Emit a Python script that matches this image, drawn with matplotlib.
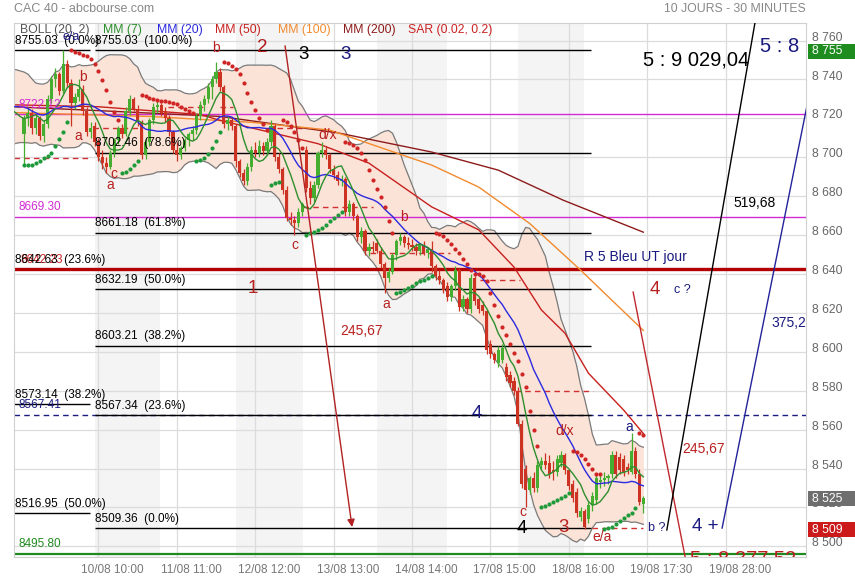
import matplotlib
matplotlib.use("Agg")
import matplotlib.pyplot as plt
import matplotlib.transforms as mtransforms
from matplotlib.patches import Rectangle
import numpy as np
import pandas as pd

plt.rcParams['font.family'] = ['Liberation Sans', 'DejaVu Sans']

W, H = 855, 580

# ---------------- data ----------------
# closes of the session before the visible window (estimated, only feeds the averages)
prev_closes = [8735, 8741, 8738, 8730, 8722, 8716, 8712, 8718, 8727, 8733,
               8739, 8736, 8728, 8719, 8711, 8714, 8722, 8729, 8724]

# 30 minute candles, one block per day
opens = [
    8712, 8720, 8723, 8715, 8720, 8711, 8717, 8730, 8740, 8743, 8734, 8748, 8738, 8728, 8731, 8735, 8724, 8713,
    8716, 8708, 8700, 8697, 8695, 8702, 8709, 8715, 8712, 8724, 8730, 8725, 8718, 8701, 8708, 8719, 8726, 8727,
    8724, 8720, 8713, 8704, 8701, 8705, 8709, 8712, 8714, 8721, 8727, 8730, 8736, 8740, 8744, 8736, 8717, 8719,
    8716, 8698, 8692, 8688, 8695, 8704, 8702, 8706, 8703, 8708, 8716, 8700, 8694, 8683, 8669, 8668, 8666, 8672,
    8704, 8684, 8679, 8686, 8702, 8704, 8701, 8694, 8691, 8688, 8689, 8672, 8676, 8670, 8659, 8662, 8652, 8654,
    8656, 8652, 8645, 8638, 8641, 8650, 8657, 8659, 8656, 8655, 8654, 8652, 8655, 8651, 8653, 8644, 8639, 8637,
    8634, 8628, 8634, 8642, 8623, 8627, 8622, 8638, 8627, 8624, 8621, 8604, 8599, 8594, 8596, 8592, 8588, 8585,
    8580, 8563, 8540, 8529, 8535, 8530, 8542, 8544, 8543, 8539, 8538, 8543, 8547, 8539, 8532, 8528, 8515, 8518,
    8514, 8521, 8524, 8533, 8534, 8535, 8537, 8547, 8546, 8545, 8541, 8538, 8549, 8537, 8522]
highs = [
    8722, 8726, 8725, 8722, 8721, 8719, 8732, 8742, 8746, 8744, 8755, 8750, 8740, 8733, 8740, 8737, 8726, 8718,
    8718, 8710, 8704, 8700, 8704, 8710, 8716, 8717, 8726, 8732, 8731, 8727, 8719, 8710, 8720, 8728, 8729, 8728,
    8726, 8722, 8714, 8708, 8706, 8710, 8713, 8716, 8723, 8729, 8732, 8738, 8742, 8749, 8746, 8737, 8721, 8720,
    8717, 8699, 8694, 8697, 8706, 8708, 8709, 8708, 8710, 8719, 8717, 8702, 8695, 8685, 8672, 8670, 8674, 8677,
    8706, 8688, 8688, 8703, 8708, 8706, 8702, 8696, 8693, 8691, 8690, 8678, 8677, 8671, 8664, 8663, 8656, 8657,
    8658, 8654, 8646, 8643, 8651, 8658, 8661, 8660, 8659, 8658, 8656, 8656, 8657, 8654, 8657, 8645, 8642, 8638,
    8636, 8635, 8644, 8643, 8629, 8628, 8640, 8639, 8628, 8626, 8622, 8606, 8600, 8603, 8604, 8594, 8590, 8587,
    8582, 8565, 8542, 8536, 8538, 8544, 8546, 8548, 8547, 8544, 8547, 8549, 8548, 8540, 8534, 8530, 8520, 8519,
    8523, 8528, 8537, 8537, 8538, 8537, 8549, 8549, 8548, 8547, 8543, 8558, 8551, 8540, 8526]
lows = [
    8696, 8716, 8712, 8712, 8709, 8708, 8715, 8728, 8736, 8732, 8733, 8736, 8716, 8725, 8729, 8722, 8711, 8710,
    8706, 8698, 8694, 8692, 8694, 8700, 8707, 8710, 8711, 8722, 8724, 8716, 8699, 8699, 8706, 8717, 8723, 8721,
    8718, 8711, 8702, 8698, 8699, 8703, 8706, 8709, 8712, 8719, 8724, 8728, 8730, 8738, 8734, 8715, 8714, 8714,
    8695, 8690, 8686, 8686, 8693, 8700, 8700, 8701, 8701, 8706, 8698, 8692, 8681, 8667, 8665, 8660, 8664, 8670,
    8682, 8676, 8677, 8684, 8700, 8699, 8692, 8689, 8686, 8685, 8670, 8670, 8668, 8657, 8656, 8650, 8649, 8651,
    8651, 8643, 8630, 8636, 8640, 8647, 8655, 8654, 8653, 8652, 8650, 8650, 8650, 8648, 8641, 8637, 8635, 8630,
    8626, 8626, 8632, 8621, 8621, 8620, 8620, 8624, 8620, 8619, 8599, 8597, 8594, 8592, 8594, 8585, 8582, 8578,
    8562, 8530, 8520, 8527, 8528, 8528, 8540, 8540, 8535, 8534, 8536, 8541, 8537, 8529, 8523, 8515, 8513, 8509,
    8512, 8518, 8522, 8530, 8531, 8532, 8535, 8535, 8537, 8536, 8537, 8537, 8535, 8521, 8517]
closes = [
    8720, 8723, 8715, 8720, 8711, 8717, 8730, 8740, 8743, 8734, 8748, 8738, 8728, 8731, 8735, 8724, 8713, 8715,
    8708, 8700, 8697, 8695, 8702, 8709, 8715, 8712, 8724, 8730, 8725, 8718, 8701, 8708, 8719, 8726, 8727, 8723,
    8720, 8713, 8704, 8701, 8705, 8709, 8712, 8714, 8721, 8727, 8730, 8736, 8740, 8744, 8736, 8717, 8719, 8716,
    8698, 8692, 8688, 8695, 8704, 8702, 8706, 8703, 8708, 8716, 8700, 8694, 8683, 8669, 8668, 8666, 8672, 8676,
    8684, 8679, 8686, 8702, 8704, 8701, 8694, 8691, 8688, 8689, 8672, 8676, 8670, 8659, 8662, 8652, 8654, 8653,
    8652, 8645, 8638, 8641, 8650, 8657, 8659, 8656, 8655, 8654, 8652, 8655, 8651, 8653, 8644, 8639, 8637, 8632,
    8628, 8634, 8642, 8623, 8627, 8622, 8638, 8626, 8622, 8621, 8601, 8599, 8596, 8601, 8602, 8587, 8584, 8580,
    8563, 8532, 8529, 8535, 8530, 8542, 8544, 8542, 8537, 8538, 8545, 8547, 8539, 8531, 8525, 8517, 8518, 8510,
    8521, 8526, 8535, 8534, 8535, 8536, 8547, 8537, 8539, 8538, 8539, 8549, 8537, 8523, 8525]

# long averages (need history outside the window)
mm50_x = [-3, 19, 45, 50, 75, 88, 104, 116, 125, 132, 138, 144, 153, 158]
mm50_y = [8727, 8726, 8722, 8719, 8707, 8697, 8674.5, 8662.7, 8643.6, 8621.5, 8609.6, 8589, 8570, 8558]
mm100_x = [-3, 32, 58, 78, 104, 116, 129, 142, 152, 158]
mm100_y = [8723, 8721, 8718, 8714, 8696, 8684.7, 8666, 8642, 8622.6, 8611]
mm200_x = [-3, 19, 50, 80, 104, 121, 137.5, 158]
mm200_y = [8726, 8724, 8721, 8712.6, 8702.7, 8693.4, 8678, 8661.5]

# fibonacci retracements
fib_left = [8755.03, 8642.63, 8573.14, 8516.95]
fib_left_pct = ['0.0%', '23.6%', '38.2%', '50.0%']
fib_right = [8755.03, 8702.46, 8661.18, 8632.19, 8603.21, 8567.34, 8509.36]
fib_right_pct = ['100.0%', '78.6%', '61.8%', '50.0%', '38.2%', '23.6%', '0.0%']

magenta_levels = [8722.12, 8669.30]
support_red = 8642.4
navy_level = 8567.41
green_level = 8495.80

# short red dashed stops: start, end, level
stop_start = [-2.5, 17.6, 36.7, 50.0, 64.5, 71.2, 88.3, 116.3, 125.3, 145.0]
stop_end = [16.8, 29.6, 46.7, 53.3, 72.2, 89.0, 108.7, 126.5, 145.2, 157.9]
stop_level = [8699.7, 8715, 8725.8, 8726, 8715, 8674.5, 8651, 8637, 8580, 8509.4]

# trend lines (x0, y0, x1, y1)
wave_red = (66.6, 8757.3, 83.7, 8509.9)
wave_red2 = (155.4, 8630.7, 169.2, 8489)
wave_black = (164.0, 8508.4, 187.5, 8781)
wave_navy = (178.1, 8509.4, 201.0, 8739)

tag_levels = [8755, 8525, 8509]
tag_colors = ['#1e8c1e', '#6e6e6e', '#cc1a1a']

day_shade = [(18.0, 34.6), (54.2, 71.2), (90.1, 108.0), (126.0, 142.9)]
grid_x = [19, 39, 59, 79, 99, 119, 139, 159, 179]
time_labels = ['10/08 10:00', '11/08 11:00', '12/08 12:00', '13/08 13:00', '14/08 14:00',
               '17/08 15:00', '18/08 16:00', '19/08 17:30', '19/08 28:00']

# ---------------- indicators ----------------
n_prev = len(prev_closes)
all_close = pd.Series(prev_closes + closes, dtype=float)
x_all = np.arange(-n_prev, len(closes))
mm7 = all_close.rolling(7, min_periods=1).mean()
mm20 = all_close.rolling(20, min_periods=1).mean()
sd20 = all_close.rolling(20, min_periods=2).std(ddof=0)
bb_up = mm20 + 2 * sd20
bb_lo = mm20 - 2 * sd20


def parabolic_sar(h, l, step=0.02, amax=0.2):
    n = len(h)
    sar = np.empty(n)
    up = np.empty(n, dtype=bool)
    trend_up = True
    af = step
    ep = h[0]
    sar[0] = l[0]
    up[0] = True
    for t in range(1, n):
        s = sar[t - 1] + af * (ep - sar[t - 1])
        if trend_up:
            s = min(s, l[t - 1], l[max(t - 2, 0)])
            if l[t] < s:
                trend_up, s, ep, af = False, ep, l[t], step
            elif h[t] > ep:
                ep, af = h[t], min(af + step, amax)
        else:
            s = max(s, h[t - 1], h[max(t - 2, 0)])
            if h[t] > s:
                trend_up, s, ep, af = True, ep, h[t], step
            elif l[t] < ep:
                ep, af = l[t], min(af + step, amax)
        sar[t] = s
        up[t] = trend_up
    return sar, up


sar, sar_up = parabolic_sar(np.array(highs, float), np.array(lows, float))

# ---------------- figure ----------------
fig = plt.figure(figsize=(W / 100, H / 100), dpi=100)
ax_l, ax_r, ax_t, ax_b = 14, 806, 22.7, 557.4
ax = fig.add_axes([ax_l / W, 1 - ax_b / H, (ax_r - ax_l) / W, (ax_b - ax_t) / H])
ax.set_xlim(-2.55, 199.5)
ax.set_ylim(8494.3, 8769.2)

for a, b in day_shade:
    ax.axvspan(a, b, color='#f4f4f4', lw=0, zorder=0)
for gx in grid_x:
    ax.axvline(gx, color='#dcdcdc', lw=0.9, zorder=0.5)
for gy in range(8500, 8761, 20):
    ax.axhline(gy, color='#dcdcdc', lw=0.9, zorder=0.5)

ax.set_xticks([])
ax.set_yticks([])
for s in ax.spines.values():
    s.set_color('#d0d0d0')
    s.set_linewidth(0.8)

# bollinger
ax.fill_between(x_all, bb_lo, bb_up, color='#fbe3d7', lw=0, zorder=1)
ax.plot(x_all, bb_up, color='#7a7a7a', lw=0.9, zorder=1.2)
ax.plot(x_all, bb_lo, color='#7a7a7a', lw=0.9, zorder=1.2)

# horizontal levels
for lv in magenta_levels:
    ax.axhline(lv, color='#d22ad2', lw=1.0, zorder=2)
ax.axhline(navy_level, color='#1c1c80', lw=1.0, ls=(0, (4, 3)), zorder=2)
ax.axhline(green_level, color='#1f8a1f', lw=1.6, zorder=2)
for lv in fib_left:
    ax.hlines(lv, -2.55, 16.8, color='black', lw=1.0, zorder=2.1)
for lv in fib_right:
    ax.hlines(lv, 18.1, 144.6, color='black', lw=1.0, zorder=2.1)
ax.axhline(support_red, color='#b30000', lw=2.4, zorder=2.2)
ax.hlines(stop_level, stop_start, stop_end, colors='#d23030', lw=1.0,
          linestyles=(0, (4, 3)), zorder=2.3)

# moving averages
ax.plot(mm200_x, mm200_y, color='#8e1b1b', lw=1.0, zorder=2.5)
ax.plot(mm100_x, mm100_y, color='#f28a2e', lw=1.0, zorder=2.5)
ax.plot(mm50_x, mm50_y, color='#c8201e', lw=1.0, zorder=2.5)
ax.plot(x_all, mm20, color='#2a2ae0', lw=1.0, zorder=3.5)
ax.plot(x_all, mm7, color='#2d8f2d', lw=1.0, zorder=3.5)

# candles
x = np.arange(len(closes))
o = np.array(opens, float)
c = np.array(closes, float)
colors = np.where(c >= o, '#45ad2f', '#cc3322')
ax.vlines(x, lows, highs, colors=colors, lw=0.9, zorder=3)
body = np.maximum(np.abs(c - o), 0.6)
ax.bar(x, body, bottom=np.minimum(o, c), width=0.8, color=colors, lw=0, zorder=3.2)

# SAR
ax.scatter(x[~sar_up], sar[~sar_up], s=9, color='#d02525', lw=0, zorder=4)
ax.scatter(x[sar_up], sar[sar_up], s=9, color='#1f9a3a', lw=0, zorder=4)

# trend lines
x0, y0, x1, y1 = wave_red
ax.annotate('', xy=(x1, y1), xytext=(x0, y0),
            arrowprops=dict(arrowstyle='-|>', color='#b22222', lw=1.0,
                            mutation_scale=11, shrinkA=0, shrinkB=0), zorder=5)
for (a0, b0, a1, b1), col in [(wave_red2, '#c0282d'), (wave_black, 'black'), (wave_navy, '#22229a')]:
    ax.plot([a0, a1], [b0, b1], color=col, lw=1.0, zorder=5)

# fibonacci labels
for lv, pc in zip(fib_left, fib_left_pct):
    if lv == 8642.63:
        ax.text(-0.9, lv + 4.8, '8642.23', color='#cc2222', fontsize=8.5, va='center', zorder=6)
    ax.text(-2.4, lv + 4.8, f'{lv:.2f}  ({pc})', color='black', fontsize=8.5, va='center', zorder=6)
for lv, pc in zip(fib_right, fib_right_pct):
    ax.text(18.1, lv + 4.8, f'{lv:.2f}  ({pc})', color='black', fontsize=8.5, va='center', zorder=6)
for lv in magenta_levels:
    ax.text(-1.4, lv + 5.0, f'{lv:.2f}', color='#d22ad2', fontsize=8.5, va='center', zorder=6)
ax.text(-1.4, navy_level + 5.2, f'{navy_level:.2f}', color='#1c1c80', fontsize=8.5, va='center', zorder=6)
ax.text(-1.4, green_level + 5.4, f'{green_level:.2f}', color='#1f8a1f', fontsize=8.5, va='center', zorder=6)

# wave annotations
dred, red, navy = '#b01c1c', '#b82020', '#1a1a80'
notes = [
    (59.4, 8756.7, '2', dred, 13.5), (69.9, 8752.9, '3', 'black', 13.5), (80.6, 8752.9, '3', navy, 13.5),
    (48.0, 8756.0, 'b', red, 10), (14.0, 8741.1, 'b', red, 10), (9.7, 8761.6, 'e/a', navy, 9),
    (12.8, 8711.0, 'a', red, 10), (22.0, 8691.4, 'c', red, 10), (21.0, 8685.8, 'a', red, 10),
    (75.0, 8711.4, 'd/x', red, 10), (68.3, 8655.0, 'c', red, 10), (96.0, 8669.3, 'b', red, 10),
    (57.1, 8632.8, '1', red, 13.5), (91.3, 8624.6, 'a', red, 10), (80.6, 8610.7, '245,67', red, 10),
    (142.9, 8648.7, 'R 5 Bleu UT jour', navy, 10), (159.7, 8631.8, '4', red, 13.5),
    (165.8, 8631.8, 'c ?', navy, 9), (180.9, 8676.5, '519,68', 'black', 10),
    (190.6, 8614.8, '375,2', navy, 10), (157.9, 8749.8, '5 : 9 029,04', 'black', 14.5),
    (187.8, 8757.2, '5 : 8', navy, 14.5), (114.3, 8568.5, '4', navy, 13.5),
    (135.5, 8559.3, 'd/x', red, 10), (153.3, 8561.3, 'a', navy, 10), (167.9, 8550.0, '245,67', red, 10),
    (126.5, 8517.6, 'c', red, 10), (125.8, 8509.2, '4', 'black', 13.5), (136.2, 8509.9, '3', red, 13.5),
    (144.9, 8504.8, 'e/a', red, 10), (159.2, 8509.4, 'b ?', navy, 9), (170.4, 8510.4, '4 +', navy, 13.5),
    (169.9, 8493.3, '5 : 8 377,52', red, 14.5),
]
for tx, ty, tt, tc, ts in notes:
    ax.text(tx, ty, tt, color=tc, fontsize=ts, ha='left', va='center', zorder=7, clip_on=True)

# right axis labels
yright = mtransforms.blended_transform_factory(ax.transAxes, ax.transData)
for p in range(8500, 8761, 20):
    ax.text(1 + 5.5 / (ax_r - ax_l), p + 1.5, f'{p // 1000} {p % 1000:03d}', transform=yright,
            ha='left', va='center', fontsize=8.7, color='#666666', clip_on=False)

# bottom time labels
xbottom = mtransforms.blended_transform_factory(ax.transData, ax.transAxes)
for gx, lab in zip(grid_x, time_labels):
    ax.text(gx + 3.6, -(570 - ax_b) / (ax_b - ax_t), lab, transform=xbottom, ha='center',
            va='center', fontsize=8.5, color='#777777', clip_on=False)

# price tags
tagtr = mtransforms.blended_transform_factory(fig.transFigure, ax.transData)
for lv, col in zip(tag_levels, tag_colors):
    fig.add_artist(Rectangle((808 / W, lv - 0.5 - 3.9), 47 / W, 7.8, transform=tagtr,
                             color=col, lw=0, zorder=1))
    fig.text(812 / W, lv - 0.5, f'{lv // 1000} {lv % 1000:03d}', transform=tagtr, color='white',
             fontsize=8.7, ha='left', va='center', zorder=3)

# header and legend
fig.text(14 / W, 1 - 8.5 / H, 'CAC 40 - abcbourse.com', color='#888888', fontsize=9, va='center')
fig.text(806 / W, 1 - 8.5 / H, '10 JOURS - 30 MINUTES', color='#888888', fontsize=8.8,
         ha='right', va='center')
legend = [(20, 'BOLL (20, 2)', '#555555'), (103, 'MM (7)', '#2d8f2d'), (157, 'MM (20)', '#2a2ae0'),
          (215, 'MM (50)', '#c8201e'), (278, 'MM (100)', '#f28a2e'), (343, 'MM (200)', '#8e1b1b'),
          (408, 'SAR (0.02, 0.2)', '#cc2222')]
for px, lab, col in legend:
    fig.text(px / W, 1 - 29.5 / H, lab, color=col, fontsize=8.8, va='center', zorder=4)

fig.savefig('out.png', dpi=100)
